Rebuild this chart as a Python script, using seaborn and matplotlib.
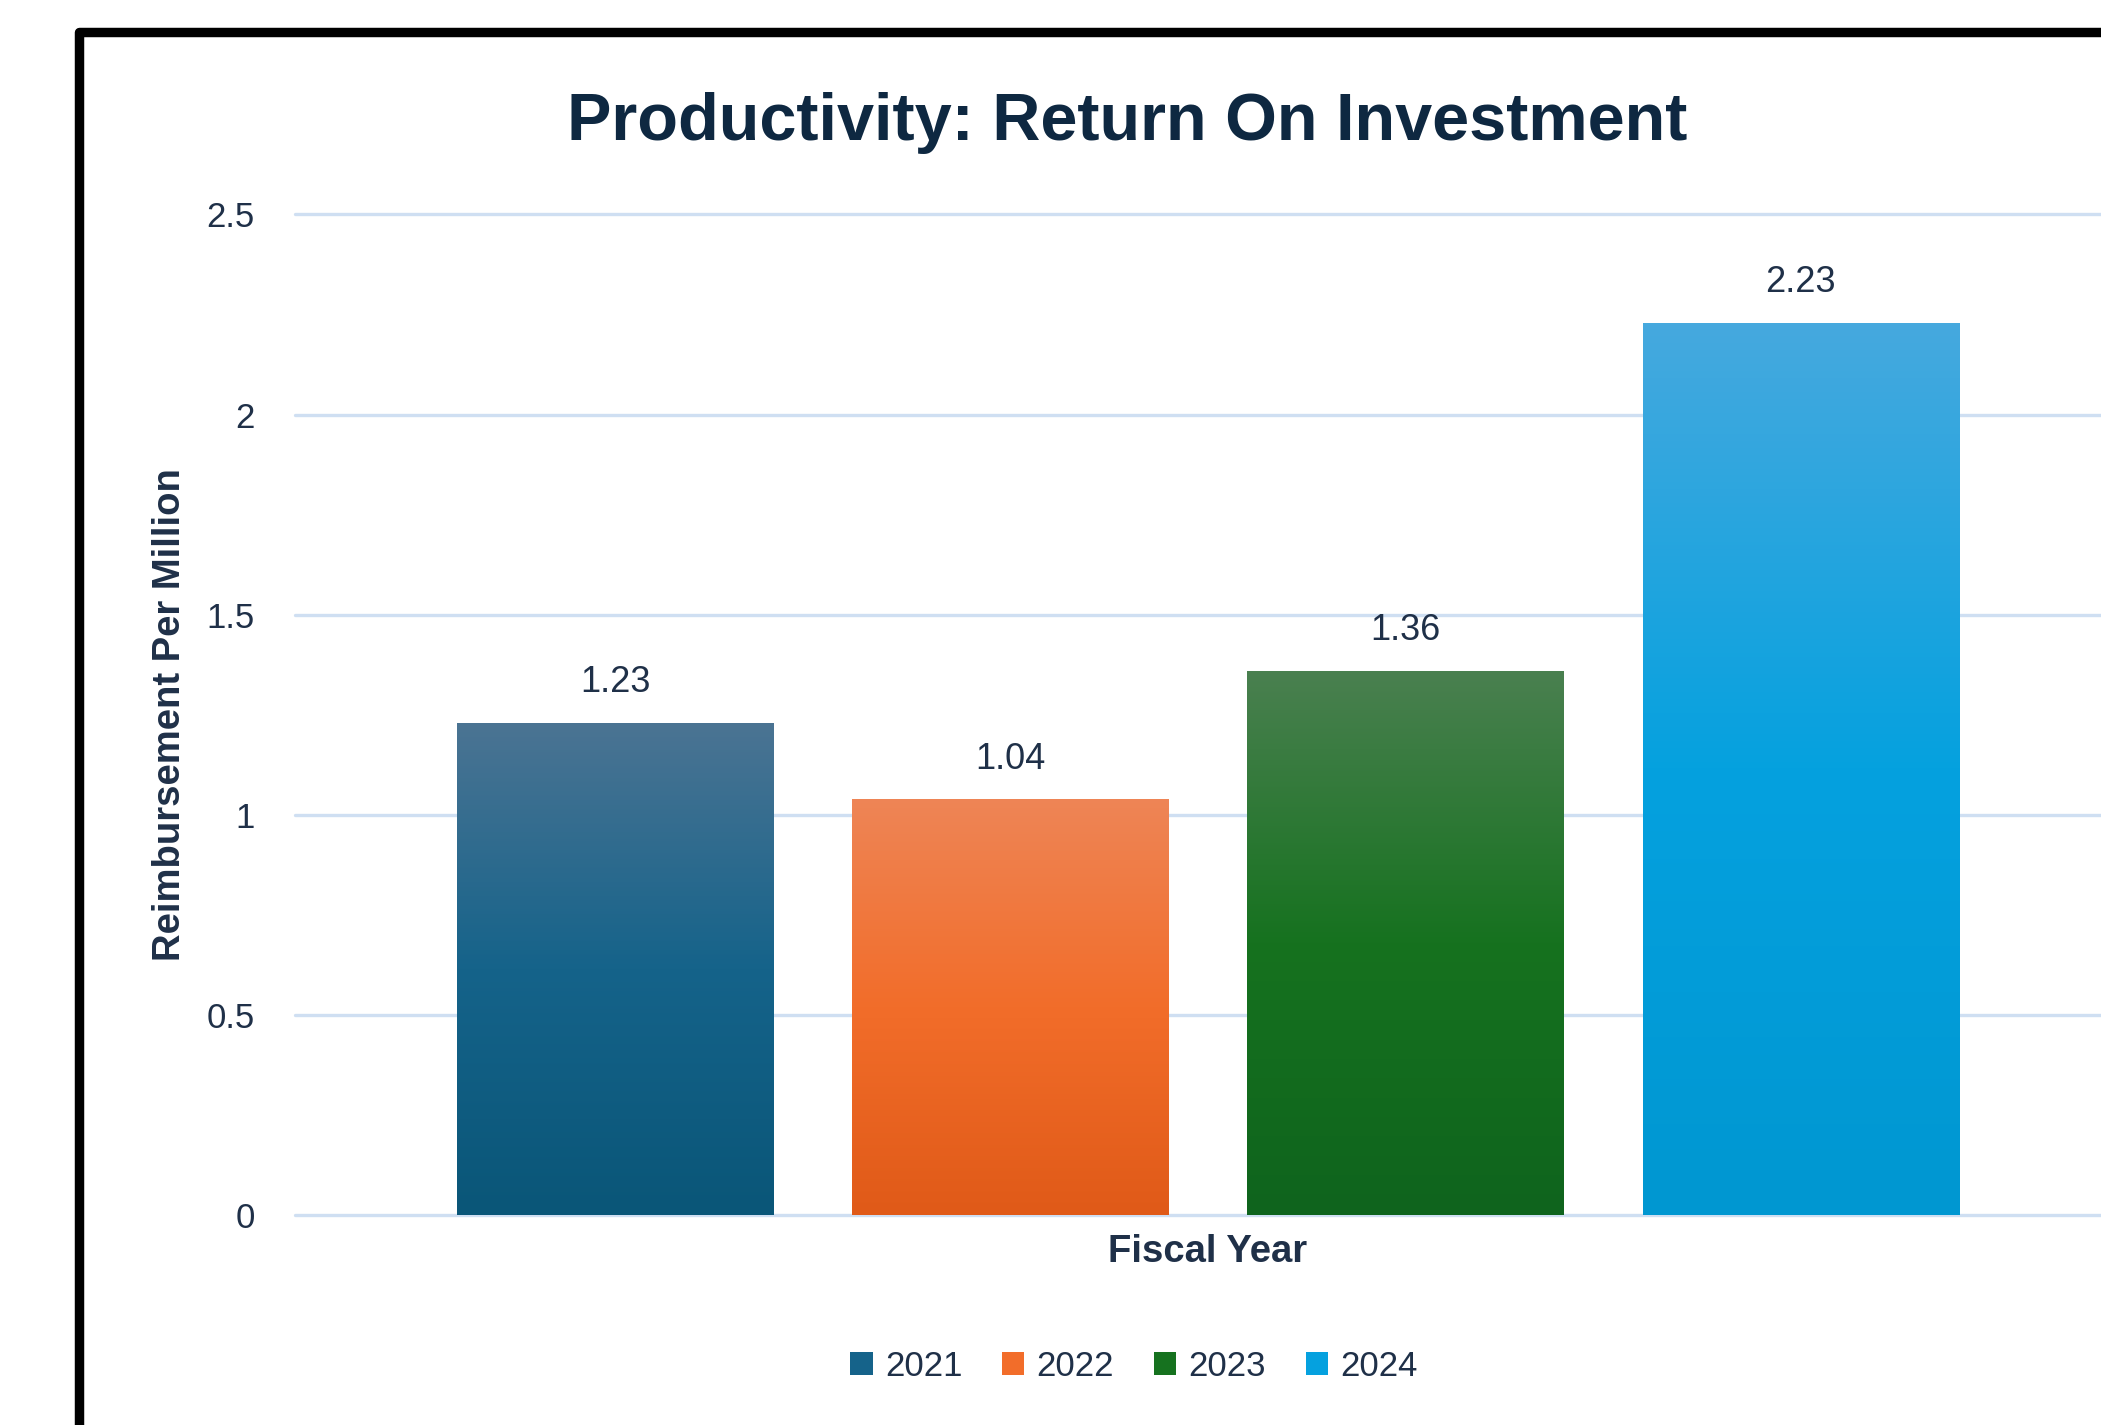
import numpy as np
import pandas as pd
import seaborn as sns
import matplotlib.pyplot as plt
from matplotlib.colors import LinearSegmentedColormap
from matplotlib.patches import Patch, Rectangle

# === Data ===
years = ["2021", "2022", "2023", "2024"]
roi_values = [1.23, 1.04, 1.36, 2.23]

# gradient stops per bar (top, middle, bottom)
grad_top = ["#4b7493", "#ee8556", "#4a8050", "#46a9de"]
grad_mid = ["#15638a", "#f26d2a", "#16721f", "#05a1df"]
grad_bot = ["#0a5678", "#e05a18", "#0f641d", "#0097d1"]

title_color = "#0e2841"
text_color = "#1f3048"
grid_color = "#cfdff2"

df = pd.DataFrame({"year": years, "roi": roi_values})

sns.set_style("white")
plt.rcParams["font.family"] = ["Liberation Sans", "DejaVu Sans"]

fig = plt.figure(figsize=(21.01, 14.25), dpi=100)
ax = fig.add_axes([0.1404, 0.1474, 0.8691, 0.7021])

sns.barplot(data=df, x="year", y="roi", hue="year", palette=grad_mid,
            width=0.8, dodge=False, legend=False, ax=ax)

# === Gradient fill, clipped to each bar ===
grad = np.linspace(0, 1, 256).reshape(-1, 1)
for i, patch in enumerate(ax.patches):
    cmap = LinearSegmentedColormap.from_list(
        f"g{i}", [(0, grad_top[i]), (0.5, grad_mid[i]), (1, grad_bot[i])])
    x0, y0 = patch.get_x(), patch.get_y()
    w, h = patch.get_width(), patch.get_height()
    im = ax.imshow(grad, cmap=cmap, aspect="auto", origin="upper",
                   extent=[x0, x0 + w, y0, y0 + h], zorder=patch.get_zorder() + 0.1)
    im.set_clip_path(patch)
    patch.set_edgecolor("none")

# === Value labels ===
for cont in ax.containers:
    ax.bar_label(cont, fmt="%.2f", padding=16, fontsize=26, color=text_color)

ax.set_xlim(-0.81, 3.81)
ax.set_ylim(0, 2.5)
ax.set_yticks([0, 0.5, 1, 1.5, 2, 2.5])
ax.set_yticklabels(["0", "0.5", "1", "1.5", "2", "2.5"])
ax.set_xticks([])
ax.tick_params(axis="y", length=0, pad=29, labelsize=25, labelcolor=text_color)

ax.yaxis.grid(True, color=grid_color, linewidth=2.4)
ax.set_axisbelow(True)
for gl in ax.get_ygridlines():
    gl.set_clip_on(False)
sns.despine(ax=ax, left=True, bottom=True)

ax.set_ylabel("Reimbursement Per Million", fontsize=27.5, fontweight="bold",
              color=text_color)
ax.yaxis.set_label_coords(-0.0585, 0.5)
ax.set_xlabel("Fiscal Year", fontsize=27.5, fontweight="bold", color=text_color)
ax.xaxis.set_label_coords(0.5, -0.019)

fig.text(0.5364, 1 - 123 / 1425, "Productivity: Return On Investment",
         ha="center", va="center", fontsize=48, fontweight="bold", color=title_color)

# === Legend ===
handles = [Patch(facecolor=grad_mid[i], edgecolor="none", label=years[i])
           for i in range(len(years))]
fig.legend(handles=handles, loc="center", ncol=4, frameon=False,
           bbox_to_anchor=(1134 / 2101, 1 - 1366 / 1425), fontsize=25,
           labelcolor=text_color, handlelength=0.64, handleheight=0.64,
           handletextpad=0.35, columnspacing=1.15)

# === Outer frame (only left and top edges fall inside the picture) ===
frame = Rectangle((78.5 / 2101, -0.2), 1.3, 1.2 - 32 / 1425,
                  transform=fig.transFigure, fill=False, edgecolor="black",
                  linewidth=6.8, joinstyle="round", clip_on=False)
fig.patches.append(frame)

fig.savefig("out.png", dpi=100)
